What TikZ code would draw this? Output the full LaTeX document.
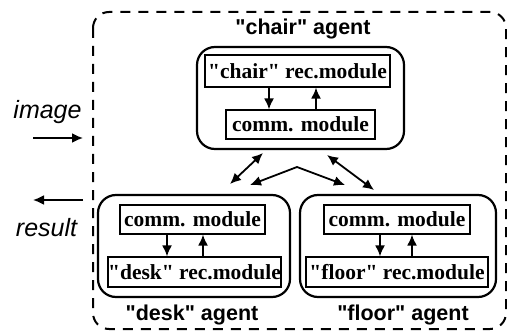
\documentclass[tikz,border=0pt]{standalone}
\usepackage{fontspec}
\setmainfont{Liberation Serif}
\setsansfont{Liberation Sans}
\usetikzlibrary{arrows.meta}

\newcommand{\qt}[1]{\textquotedbl#1\textquotedbl}

\tikzset{
  module/.style={draw, line width=0.6pt, inner sep=0pt, font=\bfseries\fontsize{10.75}{12}\selectfont},
  agent/.style={draw, line width=1.1pt, rounded corners=9pt, inner sep=0pt},
  agentname/.style={font=\sffamily\bfseries\fontsize{10.75}{12}\selectfont},
  io/.style={font=\sffamily\itshape\fontsize{12.5}{14}\selectfont},
  arr/.style={-{Latex[length=5.5pt,width=5pt]}, line width=0.9pt},
  darr/.style={{Latex[length=5.5pt,width=5pt]}-{Latex[length=5.5pt,width=5pt]}, line width=0.9pt}
}

\begin{document}
\begin{tikzpicture}[x=0.5pt, y=-0.5pt]
        \useasboundingbox (0,0) rectangle (507,331);
        % System border
        \draw[line width=1pt, dash pattern=on 5pt off 4pt, rounded corners=8pt] (93,12) rectangle (506,329);

        % Chair agent
        \node[agentname] (chairname) at (303,29) {\qt{chair} agent};
        \node[agent, minimum width=103.5pt, minimum height=51pt] (chair) at (300.5,98) {};
        \node[module, minimum width=92.5pt, minimum height=16pt] (chairrec) at (297.5,71) {\qt{chair} rec.module};
        \node[module, minimum width=74.5pt, minimum height=14.5pt] (chaircomm) at (300.5,124.5) {comm. module};
        \draw[arr] (chairrec.south -| 269,0) -- (chaircomm.north -| 269,0);
        \draw[arr] (chaircomm.north -| 316,0) -- (chairrec.south -| 316,0);

        % Desk agent
        \node[agent, minimum width=96pt, minimum height=51pt] (desk) at (194,246) {};
        \node[module, minimum width=72.5pt, minimum height=14.5pt] (deskcomm) at (192.5,219.5) {comm. module};
        \node[module, minimum width=86.5pt, minimum height=15pt] (deskrec) at (194.5,272) {\qt{desk} rec.module};
        \draw[arr] (deskcomm.south -| 167,0) -- (deskrec.north -| 167,0);
        \draw[arr] (deskrec.north -| 203,0) -- (deskcomm.south -| 203,0);
        \node[agentname] (deskname) at (192,315) {\qt{desk} agent};

        % Floor agent
        \node[agent, minimum width=98pt, minimum height=51pt] (floor) at (398,246) {};
        \node[module, minimum width=73pt, minimum height=14.5pt] (floorcomm) at (397,219.5) {comm. module};
        \node[module, minimum width=91pt, minimum height=15pt] (floorrec) at (397,272) {\qt{floor} rec.module};
        \draw[arr] (floorcomm.south -| 380,0) -- (floorrec.north -| 380,0);
        \draw[arr] (floorrec.north -| 412,0) -- (floorcomm.south -| 412,0);
        \node[agentname] (floorname) at (403,315) {\qt{floor} agent};

        % Links between agents
        \coordinate (cl) at (263,153);
        \coordinate (dl) at (230,184);
        \coordinate (cr) at (327,155);
        \coordinate (fr) at (374,190);
        \coordinate (dm) at (250,185);
        \coordinate (top) at (297,167);
        \coordinate (fm) at (345,185);
        \draw[darr] (cl) -- (dl);
        \draw[darr] (cr) -- (fr);
        \draw[darr] (dm) -- (top) -- (fm);

        % Input and output
        \node[io] (image) at (47.5,112) {image};
        \coordinate (inA) at (33,138);
        \coordinate (inB) at (83,138);
        \draw[arr] (inA) -- (inB);
        \node[io] (result) at (46.5,228) {result};
        \coordinate (outA) at (83,200);
        \coordinate (outB) at (33,200);
        \draw[arr] (outA) -- (outB);
\end{tikzpicture}
\end{document}
